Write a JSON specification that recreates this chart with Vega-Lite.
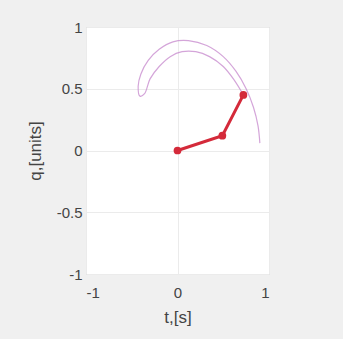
{
  "$schema": "https://vega.github.io/schema/vega-lite/v6.json",
  "width": 183,
  "height": 247,
  "autosize": {"type": "none"},
  "padding": {"left": 86, "top": 27, "right": 74, "bottom": 65},
  "background": "#f0f0f0",
  "config": {
    "view": {"fill": "white", "stroke": "#c8c8c8", "strokeWidth": 1},
    "font": "Liberation Sans",
    "axis": {
      "gridColor": "#ebebeb",
      "gridWidth": 1,
      "domain": false,
      "ticks": false,
      "labelFontSize": 15,
      "labelColor": "#444444",
      "titleFontSize": 17,
      "titleFontWeight": "normal",
      "titleColor": "#444444",
      "labelFont": "Liberation Sans",
      "titleFont": "Liberation Sans",
      "labelExpr": "'' + datum.value"
    }
  },
  "datasets": {
    "trace": [
      {"i": 1, "x": 0.90, "y": 0.06},
      {"i": 2, "x": 0.88, "y": 0.2},
      {"i": 3, "x": 0.83, "y": 0.35},
      {"i": 4, "x": 0.75, "y": 0.5},
      {"i": 5, "x": 0.64, "y": 0.64},
      {"i": 6, "x": 0.5, "y": 0.76},
      {"i": 7, "x": 0.32, "y": 0.85},
      {"i": 8, "x": 0.12, "y": 0.89},
      {"i": 9, "x": -0.05, "y": 0.88},
      {"i": 10, "x": -0.2, "y": 0.82},
      {"i": 11, "x": -0.32, "y": 0.73},
      {"i": 12, "x": -0.4, "y": 0.62},
      {"i": 13, "x": -0.43, "y": 0.52},
      {"i": 14, "x": -0.41, "y": 0.44},
      {"i": 15, "x": -0.36, "y": 0.46},
      {"i": 16, "x": -0.3, "y": 0.58},
      {"i": 17, "x": -0.2, "y": 0.68},
      {"i": 18, "x": -0.08, "y": 0.76},
      {"i": 19, "x": 0.05, "y": 0.8},
      {"i": 20, "x": 0.2, "y": 0.8},
      {"i": 21, "x": 0.35, "y": 0.76},
      {"i": 22, "x": 0.5, "y": 0.68},
      {"i": 23, "x": 0.62, "y": 0.57},
      {"i": 24, "x": 0.72, "y": 0.45}
    ],
    "arm": [
      {"i": 1, "x": 0, "y": 0},
      {"i": 2, "x": 0.49, "y": 0.12},
      {"i": 3, "x": 0.72, "y": 0.45}
    ]
  },
  "layer": [
    {
      "data": {"name": "trace"},
      "mark": {"type": "line", "color": "#c98fd0", "strokeWidth": 1.2, "opacity": 0.8, "interpolate": "catmull-rom"},
      "encoding": {
        "x": {"field": "x", "type": "quantitative", "scale": {"domain": [-1, 1], "nice": false},
              "axis": {"values": [-1, 0, 1], "title": "t,[s]", "labelPadding": 11, "titlePadding": 9}},
        "y": {"field": "y", "type": "quantitative", "scale": {"domain": [-1, 1], "nice": false},
              "axis": {"values": [-1, -0.5, 0, 0.5, 1], "title": "q,[units]", "labelPadding": 4, "titlePadding": 12}},
        "order": {"field": "i"}
      }
    },
    {
      "data": {"name": "arm"},
      "mark": {"type": "line", "color": "#d42a3a", "strokeWidth": 3, "point": {"filled": true, "size": 60, "color": "#d42a3a"}},
      "encoding": {
        "x": {"field": "x", "type": "quantitative"},
        "y": {"field": "y", "type": "quantitative"},
        "order": {"field": "i"}
      }
    }
  ]
}
